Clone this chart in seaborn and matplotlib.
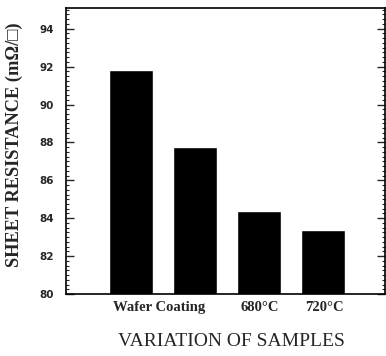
import seaborn as sns
import matplotlib.pyplot as plt
from matplotlib.ticker import MultipleLocator

samples = ["Wafer", "Coating", "680°C", "720°C"]
resistance = [91.8, 87.75, 84.4, 83.4]
y_ticks = [80, 82, 84, 86, 88, 90, 92, 94]
x_labels = ["Wafer Coating", "680°C", "720°C"]

sns.set_style("ticks")
plt.rcParams['font.family'] = ['Liberation Serif', 'DejaVu Serif']

fig = plt.figure(figsize=(3.86, 3.56), dpi=100)
ax = fig.add_axes([0.171, 0.174, 0.826, 0.804])

sns.barplot(x=samples, y=resistance, color="black", width=0.69,
            saturation=1, ax=ax)

ax.set_ylim(80, 95.1)
ax.set_xlim(-1.02, 3.97)
ax.set_yticks(y_ticks)
ax.set_yticklabels([str(t) for t in y_ticks], fontsize=7.5, fontweight="bold",
                   family="DejaVu Sans")
ax.yaxis.set_minor_locator(MultipleLocator(0.25))
# label "Wafer Coating" sits between the first two bars
ax.set_xticks([0.44, 2.02, 3.02])
ax.set_xticklabels(x_labels, fontsize=10.5, fontweight="bold")
ax.tick_params(axis="x", length=0, pad=5)
ax.tick_params(axis="y", which="major", direction="in", length=6, width=1,
               right=True, pad=9)
ax.tick_params(axis="y", which="minor", direction="in", length=2.5, width=0.8,
               right=True)

for s in ax.spines.values():
    s.set_visible(True)
    s.set_linewidth(1.2)
    s.set_color("black")

ax.set_xlabel("VARIATION OF SAMPLES", fontsize=14, labelpad=12)
ax.xaxis.set_label_coords(0.52, -0.135)
ax.set_ylabel("SHEET RESISTANCE (mΩ/□)", fontsize=13.2, fontweight="bold")
ax.yaxis.set_label_coords(-0.135, 0.52)

fig.savefig("out.png", dpi=100)
